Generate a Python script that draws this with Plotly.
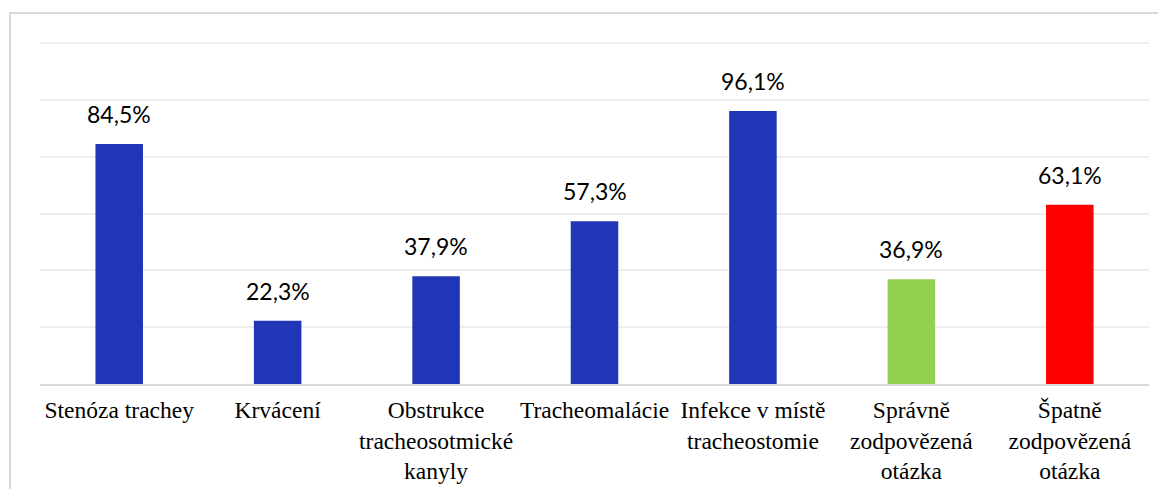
import plotly.graph_objects as go

categories = [
    "Stenóza trachey",
    "Krvácení",
    "Obstrukce<br>tracheosotmické<br>kanyly",
    "Tracheomalácie",
    "Infekce v místě<br>tracheostomie",
    "Správně<br>zodpovězená<br>otázka",
    "Špatně<br>zodpovězená<br>otázka",
]
values = [84.5, 22.3, 37.9, 57.3, 96.1, 36.9, 63.1]
colors = ["#1F37B6", "#1F37B6", "#1F37B6", "#1F37B6", "#1F37B6", "#92D050", "#FF0000"]

fig = go.Figure()
fig.add_trace(go.Bar(
    x=categories, y=values, marker=dict(color=colors, line=dict(width=0)),
    width=0.30, hoverinfo="skip",
))

for c, v in zip(categories, values):
    fig.add_annotation(
        x=c, y=v, text=f"{v:.1f}".replace(".", ",") + "%",
        showarrow=False, yanchor="bottom", yshift=14,
        font=dict(family="Lato, Open Sans, sans-serif", size=23, color="#000000"),
    )

# page has an 8px body margin; figure sized to fill the rest of the window
OFF = 8
W, H = 1166 - OFF, 489 - OFF
L, R, T, B = 40 - OFF, 17, 42 - OFF, 489 - 384
pw, ph = W - L - R, H - T - B
fig.add_shape(
    type="rect", xref="paper", yref="paper",
    x0=(10 - OFF - L) / pw, x1=(W + 10 - L) / pw,
    y0=-(B + 20) / ph, y1=(H - B - (13 - OFF)) / ph,
    line=dict(color="#D9D9D9", width=2), fillcolor="rgba(0,0,0,0)", layer="below",
)

fig.update_layout(
    width=W, height=H, margin=dict(l=L, r=R, t=T, b=B, autoexpand=False),
    paper_bgcolor="white", plot_bgcolor="white", showlegend=False,
    xaxis=dict(
        showline=True, linecolor="#D9D9D9", linewidth=2, tickangle=0, automargin=False,
        tickfont=dict(family="Liberation Serif, Times New Roman, serif", size=23.5, color="#000000"),
        ticks="", ticklabelstandoff=4,
    ),
    yaxis=dict(
        range=[0, 120.4], tickvals=[20, 40, 60, 80, 100, 120], showticklabels=False, showgrid=True,
        gridcolor="#EEEEEE", gridwidth=1.5, zeroline=False, automargin=False,
    ),
)

fig.write_html("out.html")
